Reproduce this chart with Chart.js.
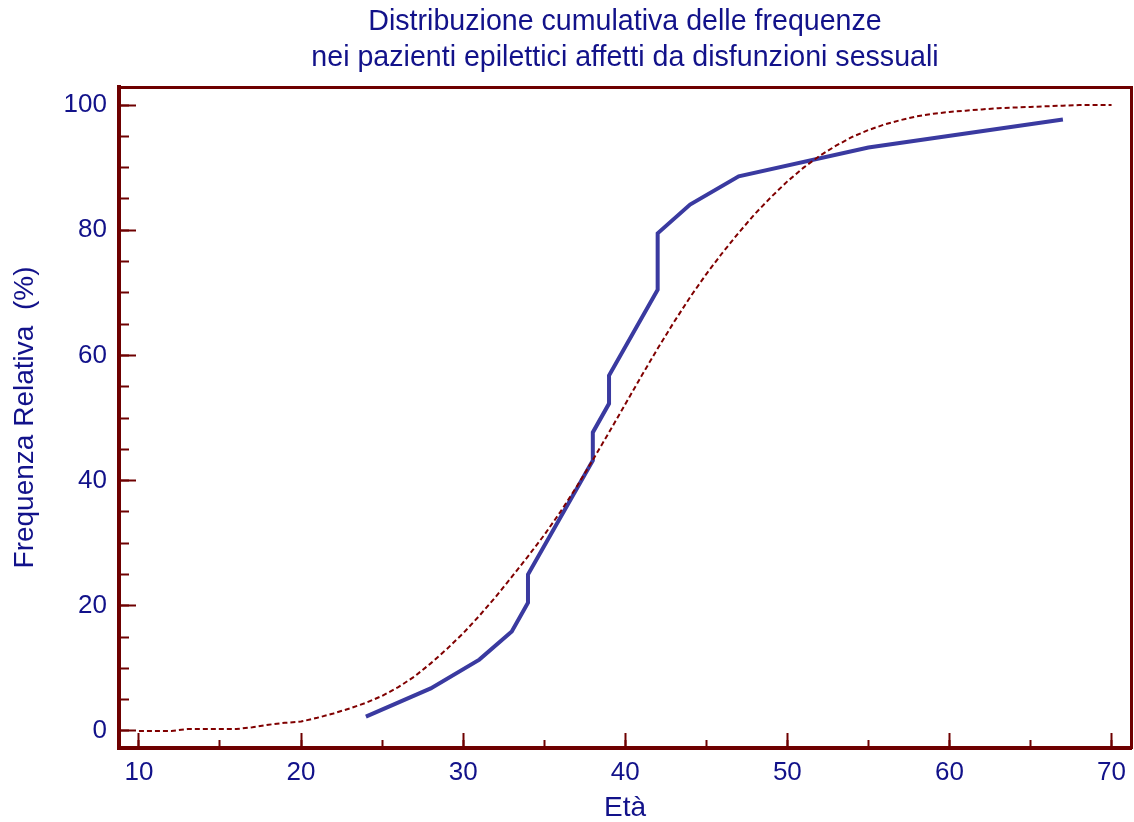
<!DOCTYPE html>
<html>
<head>
<meta charset="utf-8">
<title>Distribuzione cumulativa delle frequenze</title>
<script src="https://cdn.jsdelivr.net/npm/chart.js@4.4.1/dist/chart.umd.min.js"></script>
<style>
  html, body { margin: 0; padding: 0; background: #fff; }
  canvas { display: block; }
</style>
</head>
<body>
<canvas id="chart" width="1134" height="822"></canvas>
<script>
// observed cumulative frequency (n = 44)
const osservAges = [24, 28, 31, 33, 34, 34, 38, 38, 39, 39, 42, 42, 44, 47, 55, 67];
const osservFreq = [2.3, 6.8, 11.4, 15.9, 20.5, 25.0, 43.2, 47.7, 52.3, 56.8, 70.5, 79.5, 84.1, 88.6, 93.2, 97.7];

// expected curve (dashed)
const attesaAges = [10, 11, 12, 13, 14, 15, 16, 17, 18, 19, 20, 21, 22, 23, 24, 25, 26, 27, 28, 29,
  30, 31, 32, 33, 34, 35, 36, 37, 38, 39, 40, 41, 42, 43, 44, 45, 46, 47, 48, 49,
  50, 51, 52, 53, 54, 55, 56, 57, 58, 59, 60, 61, 62, 63, 64, 65, 66, 67, 68, 69, 70];
const attesaFreq = [0, 0, 0, 0.3, 0.3, 0.3, 0.3, 0.6, 1.0, 1.3, 1.5, 2.1, 2.8, 3.6, 4.5, 5.6, 7.0, 8.7, 10.8, 13.1,
  15.6, 18.4, 21.4, 24.6, 27.9, 31.3, 35.0, 39.0, 43.3, 47.7, 52.2, 56.7, 61.1, 65.3, 69.3, 73.0, 76.4, 79.6, 82.6, 85.3,
  87.8, 90.0, 91.9, 93.5, 94.9, 96.0, 96.9, 97.6, 98.2, 98.6, 98.9, 99.1, 99.3, 99.5, 99.6, 99.7, 99.8, 99.9, 100, 100, 100];

const xTicksMajor = 10;
const xTicksMinor = 5;
const yTicksMajor = 20;
const yTicksMinor = 5;
const X_MIN = 8.77, X_MAX = 71.2;
const Y_MIN = -2.72, Y_MAX = 102.88;

const NAVY = '#12128a';
const FRAME = '#6e0000';
const FONT = "'Liberation Sans', Arial, sans-serif";

const toPoints = (xs, ys) => xs.map((x, i) => ({ x: x, y: ys[i] }));

// no extra room for overhanging tick labels: the frame fills the page
const noPad = s => { s.paddingLeft = 0; s.paddingRight = 0; s.paddingTop = 0; s.paddingBottom = 0; };

// extra axes used only for the frame and for the short minor ticks
const plainAxis = (pos, min, max, extra) => Object.assign({
  type: 'linear', position: pos, min: min, max: max,
  ticks: { display: false, includeBounds: false },
  grid: { drawOnChartArea: false, drawTicks: false },
  border: { display: false }
}, extra);

new Chart(document.getElementById('chart'), {
  type: 'line',
  data: {
    datasets: [
      {
        label: 'Attesa',
        data: toPoints(attesaAges, attesaFreq),
        borderColor: '#800000',
        borderWidth: 2,
        borderDash: [5, 3],
        pointRadius: 0,
        tension: 0,
        fill: false
      },
      {
        label: 'Osservata',
        data: toPoints(osservAges, osservFreq),
        borderColor: '#3a3aa0',
        borderWidth: 4,
        pointRadius: 0,
        tension: 0,
        fill: false
      }
    ]
  },
  options: {
    responsive: false,
    animation: false,
    devicePixelRatio: 1,
    plugins: {
      legend: { display: false },
      tooltip: { enabled: false },
      title: {
        display: true,
        fullSize: false,
        text: ['Distribuzione cumulativa delle frequenze', 'nei pazienti epilettici affetti da disfunzioni sessuali'],
        color: NAVY,
        font: { family: FONT, size: 28.6, weight: 'normal', lineHeight: '36px' },
        padding: { top: 4, bottom: 11 }
      }
    },
    scales: {
      x: {
        type: 'linear', position: 'bottom', weight: 1,
        min: X_MIN, max: X_MAX,
        ticks: { stepSize: xTicksMajor, includeBounds: false, padding: 24, color: NAVY,
                 font: { family: FONT, size: 26 } },
        grid: { drawOnChartArea: false, drawTicks: true, tickLength: -15, tickColor: FRAME, tickWidth: 2 },
        border: { display: true, color: FRAME, width: 4 },
        title: { display: true, text: 'Età', color: NAVY, padding: 0,
                 font: { family: FONT, size: 28, lineHeight: 1 } },
        afterFit: s => { s.height = 74; noPad(s); }
      },
      xMinor: plainAxis('bottom', X_MIN, X_MAX, {
        weight: 0,
        ticks: { display: false, includeBounds: false, stepSize: xTicksMinor },
        grid: { drawOnChartArea: false, drawTicks: true, tickLength: -8, tickColor: FRAME, tickWidth: 2 },
        afterFit: s => { s.height = 0; noPad(s); }
      }),
      xTop: plainAxis('top', X_MIN, X_MAX, {
        border: { display: true, color: FRAME, width: 3 },
        afterFit: s => { s.height = 0; noPad(s); }
      }),
      y: {
        type: 'linear', position: 'left', weight: 1,
        min: Y_MIN, max: Y_MAX,
        ticks: { stepSize: yTicksMajor, includeBounds: false, padding: 29, color: NAVY,
                 font: { family: FONT, size: 26 } },
        grid: { drawOnChartArea: false, drawTicks: true, tickLength: -17, tickColor: FRAME, tickWidth: 2 },
        border: { display: true, color: FRAME, width: 4 },
        title: { display: true, text: 'Frequenza Relativa  (%)', color: NAVY, padding: { top: 11, bottom: 0 },
                 font: { family: FONT, size: 28, lineHeight: 1 } },
        afterFit: s => { s.width = 119; noPad(s); }
      },
      yMinor: plainAxis('left', Y_MIN, Y_MAX, {
        weight: 0,
        ticks: { display: false, includeBounds: false, stepSize: yTicksMinor },
        grid: { drawOnChartArea: false, drawTicks: true, tickLength: -10, tickColor: FRAME, tickWidth: 2 },
        afterFit: s => { s.width = 0; noPad(s); }
      }),
      yRight: plainAxis('right', Y_MIN, Y_MAX, {
        border: { display: true, color: FRAME, width: 3 },
        afterFit: s => { s.width = 3; noPad(s); }
      })
    }
  }
});
</script>
</body>
</html>
